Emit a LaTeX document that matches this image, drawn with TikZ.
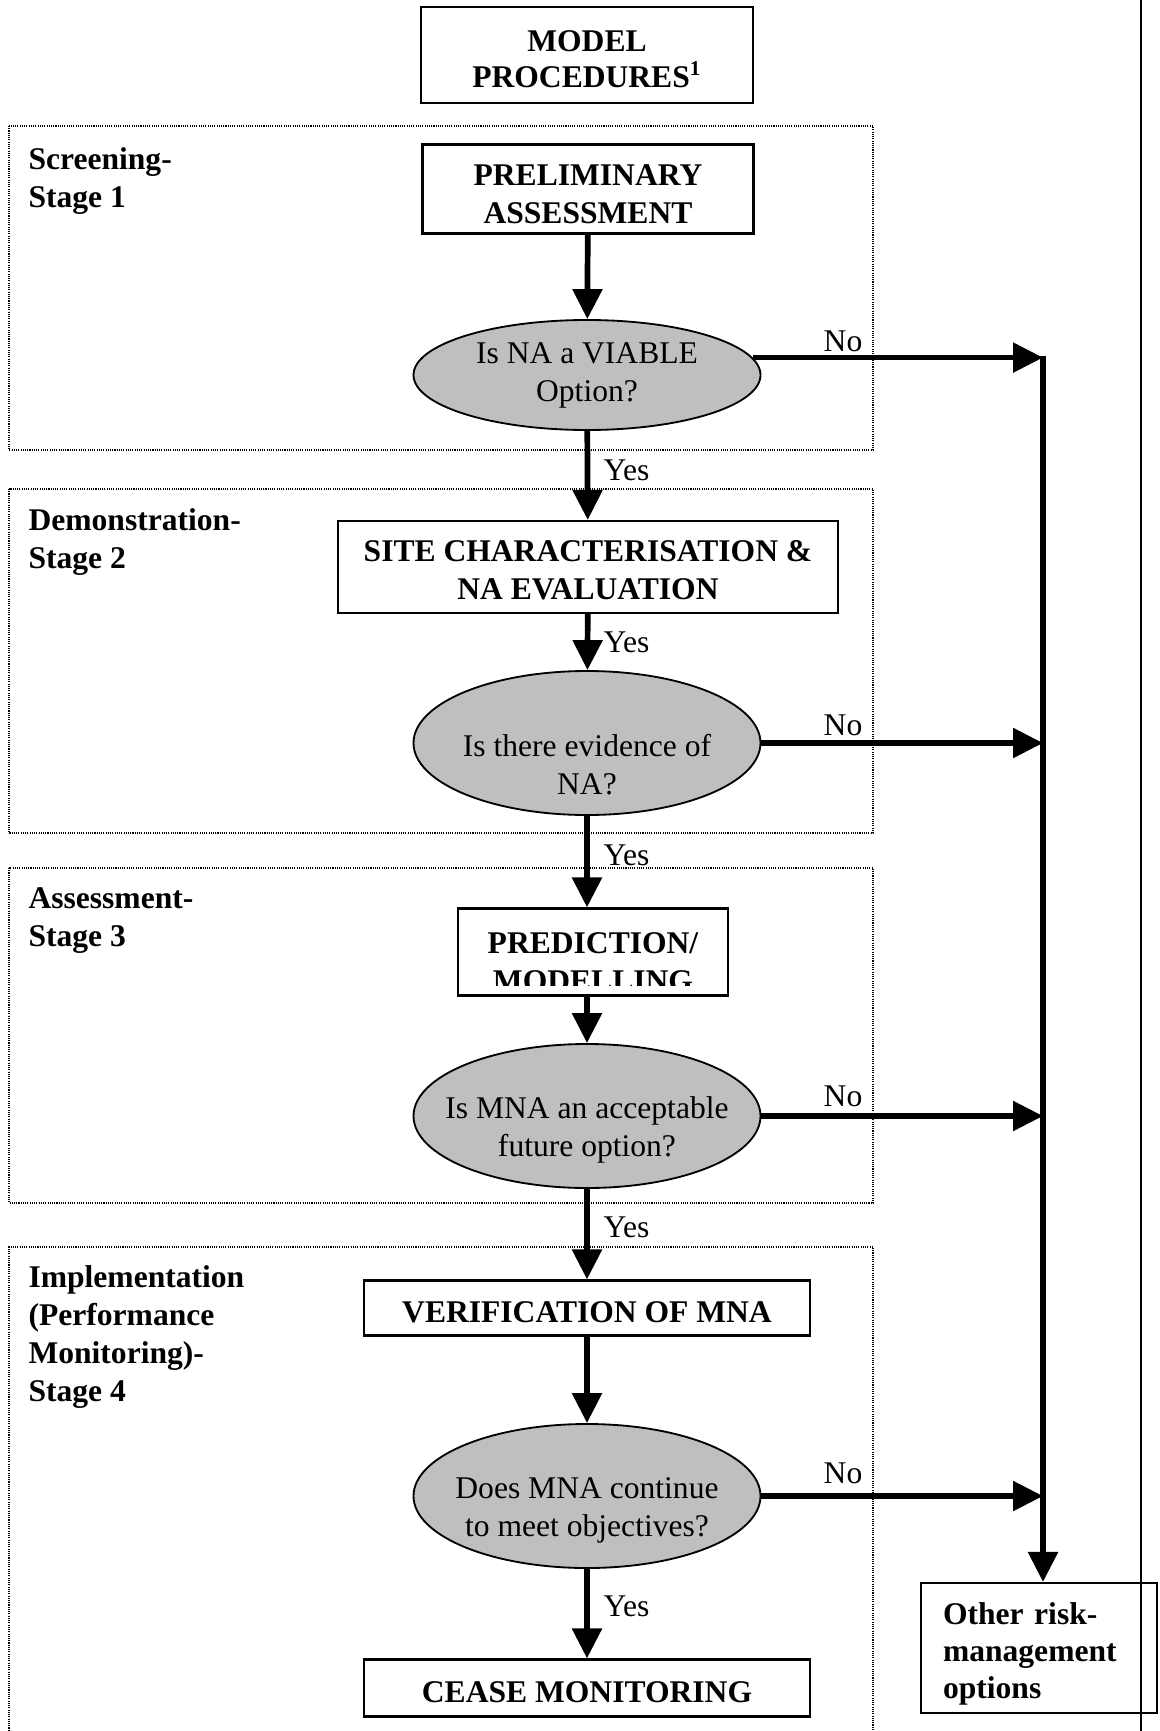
\documentclass[tikz,border=0pt]{standalone}
\usepackage{fontspec}
\setmainfont{Liberation Serif}
\usetikzlibrary{arrows.meta,shapes.geometric}
\newcommand{\pxu}{0.38pt}
\tikzstyle{stagebox} = [draw,line width=0.75pt,dash pattern=on 0.4pt off 0.45pt]
\tikzstyle{procbox} = [draw,rectangle,line width=0.8pt,inner sep=0pt,align=center,font=\fontsize{12}{14.4}\selectfont\bfseries,execute at begin node={\rule{0pt}{11pt}}]
\tikzstyle{boxtext} = [inner sep=0pt,align=center,font=\fontsize{12}{14.4}\selectfont\bfseries]
\tikzstyle{decision} = [draw,ellipse,fill=black!25,line width=0.7pt,inner sep=0pt,minimum width=347*\pxu,minimum height=144*\pxu]
\tikzstyle{qtext} = [inner sep=0pt,align=center,font=\fontsize{12}{14.4}\selectfont]
\tikzstyle{stagelabel} = [anchor=north west,inner sep=0pt,align=left,font=\fontsize{12}{14.4}\selectfont\bfseries]
\tikzstyle{answer} = [inner sep=0pt,font=\fontsize{12}{14}\selectfont]
\tikzstyle{flow} = [draw,line width=2.17pt,-{Triangle[length=11.4pt,width=11pt]}]

\begin{document}
\begin{tikzpicture}[x=\pxu,y=-\pxu]
    \useasboundingbox (0,0) rectangle (1159,1731);
    % Stage frames and their titles
    \draw[stagebox] (9,126) rectangle (873,450);
    \draw[stagebox] (9,489) rectangle (873,833);
    \draw[stagebox] (9,868) rectangle (873,1203);
    \draw[stagebox] (9,1733) -- (9,1247) -- (873,1247) -- (873,1733);
    \node[stagelabel] (stage1) at (28,147) {Screening-\\Stage 1};
    \node[stagelabel] (stage2) at (28,508) {Demonstration-\\Stage 2};
    \node[stagelabel] (stage3) at (28,887) {Assessment-\\Stage 3};
    \node[stagelabel] (stage4) at (28,1265) {Implementation\\(Performance\\Monitoring)-\\Stage 4};
    \draw[line width=1pt] (1141,0) -- (1141,1731);

    % First we draw the boxes and the questions
    \node[procbox,minimum width=332*\pxu,minimum height=96*\pxu,label={[boxtext,font=\fontsize{12}{13.8}\selectfont\bfseries,yshift=-4*\pxu]center:{MODEL\\PROCEDURES\textsuperscript{1}}}] (model) at (587,55) {};
    \node[procbox,minimum width=331*\pxu,minimum height=89*\pxu,label={[boxtext,yshift=-5.5*\pxu]center:{PRELIMINARY\\ASSESSMENT}}] (prelim) at (588,189) {};
    \node[decision,minimum height=110*\pxu,label={[qtext]center:{Is NA a VIABLE\\Option?}}] (q1) at (587,375) {};
    \node[procbox,minimum width=500*\pxu,minimum height=92*\pxu,label={[boxtext,yshift=-3*\pxu]center:{SITE CHARACTERISATION \&\\NA EVALUATION}}] (site) at (588,567) {};
    \node[decision,label={[qtext,yshift=-22*\pxu]center:{Is there evidence of\\NA?}}] (q2) at (587,743) {};
    \node[procbox,minimum width=270*\pxu,minimum height=87*\pxu] (pred) at (593,952) {};
    \begin{scope}
        \clip (460,911) rectangle (726,985);
        \node[boxtext] (predtext) at (593,962) {PREDICTION/\\MODELLING};
    \end{scope}
    \node[decision,label={[qtext,yshift=-14*\pxu]center:{Is MNA an acceptable\\future option?}}] (q3) at (587,1116) {};
    \node[procbox,minimum width=446*\pxu,minimum height=55*\pxu] (verif) at (587,1308) {VERIFICATION OF MNA};
    \node[decision,label={[qtext,yshift=-14*\pxu]center:{Does MNA continue\\to meet objectives?}}] (q4) at (587,1496) {};
    \node[procbox,minimum width=446*\pxu,minimum height=57*\pxu] (cease) at (587,1688) {CEASE MONITORING};
    \node[procbox,minimum width=236*\pxu,minimum height=130*\pxu,label={[stagelabel,anchor=center,text width=192*\pxu,font=\fontsize{12}{14}\selectfont\bfseries,yshift=-6*\pxu]center:{Other risk-\\management\\options}}] (other) at (1039,1648) {};
    \coordinate (bus) at (1043,356);

    % Connect them with arrows
    \path[flow] (prelim) -- (q1);
    \path[flow] (q1) -- (site);
    \path[flow] (site) -- (q2);
    \path[flow] (q2.south) -- (q2.south |- pred.north);
    \path[flow] (pred.south -| q3.north) -- (q3.north);
    \path[flow] (q3) -- (verif);
    \path[flow] (verif) -- (q4);
    \path[flow] (q4) -- (cease);
    \path[flow] (q1.6) -- (q1.6 -| bus);
    \foreach \q in {q2,q3,q4}
        \path[flow] (\q.east) -- (\q.east -| bus);
    \path[flow] (bus) -- (bus |- other.north);

    % Answers on the arrows
    \foreach \y/\name in {470/yes1, 642/yes2, 855/yes3, 1227/yes4, 1606/yes5}
        \node[answer,anchor=west] (\name) at (603,\y) {Yes};
    \foreach \y/\name in {341/no1, 725/no2, 1096/no3, 1473/no4}
        \node[answer] (\name) at (843,\y) {No};
\end{tikzpicture}
\end{document}
